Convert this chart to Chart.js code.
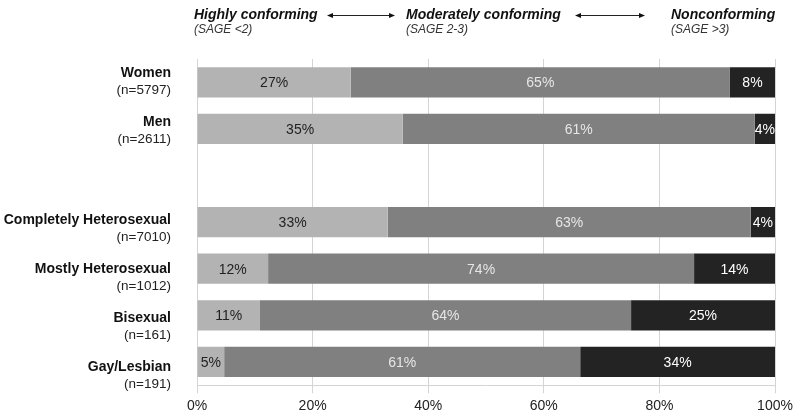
<!DOCTYPE html>
<html><head><meta charset="utf-8">
<script src="https://cdn.jsdelivr.net/npm/chart.js@4"></script>
<style>html,body{margin:0;padding:0;background:#fff;}#wrap{width:800px;height:416px;}</style>
</head><body><div id="wrap"><canvas id="c"></canvas></div>
<script>
const groupNames = ["Women", "Men", "", "Completely Heterosexual", "Mostly Heterosexual", "Bisexual", "Gay/Lesbian"];
const groupN = ["(n=5797)", "(n=2611)", "", "(n=7010)", "(n=1012)", "(n=161)", "(n=191)"];
const highlyConforming = [26.6, 35.6, null, 33.0, 12.3, 10.9, 4.7];
const moderatelyConforming = [65.6, 60.9, null, 62.8, 73.7, 64.2, 61.6];
const nonconforming = [7.8, 3.5, null, 4.2, 14.0, 24.9, 33.7];
const highlyLabels = ["27%", "35%", "", "33%", "12%", "11%", "5%"];
const moderatelyLabels = ["65%", "61%", "", "63%", "74%", "64%", "61%"];
const nonLabels = ["8%", "4%", "", "4%", "14%", "25%", "34%"];
const xTicks = [0, 20, 40, 60, 80, 100];

const FONT = "'Liberation Sans', Arial, sans-serif";

const labelPlugin = {
  id: 'labels',
  afterDatasetsDraw(chart) {
    const ctx = chart.ctx;
    ctx.save();
    // category labels
    ctx.textAlign = 'right';
    ctx.textBaseline = 'middle';
    groupNames.forEach((name, i) => {
      if (!name) return;
      const y = 73 + i * 49;
      ctx.fillStyle = '#111';
      ctx.font = "bold 14px " + FONT;
      ctx.fillText(name, 171, y);
      ctx.font = "13.5px " + FONT;
      ctx.fillStyle = '#222';
      ctx.fillText(groupN[i], 171, y + 17);
    });
    // value labels
    const labelSets = [highlyLabels, moderatelyLabels, nonLabels];
    const textColors = ['#222', '#e6e6e6', '#ffffff'];
    ctx.textAlign = 'center';
    ctx.font = "14px " + FONT;
    chart.data.datasets.forEach((ds, di) => {
      const meta = chart.getDatasetMeta(di);
      meta.data.forEach((el, i) => {
        const txt = labelSets[di][i];
        if (!txt) return;
        const cx = (el.x + el.base) / 2;
        ctx.fillStyle = textColors[di];
        ctx.fillText(txt, cx, el.y + 1);
      });
    });
    // top annotations
    ctx.textAlign = 'left';
    ctx.textBaseline = 'alphabetic';
    const heads = [["Highly conforming", "(SAGE <2)", 194], ["Moderately conforming", "(SAGE 2-3)", 406], ["Nonconforming", "(SAGE >3)", 671]];
    heads.forEach(h => {
      ctx.fillStyle = '#111';
      ctx.font = "italic bold 14px " + FONT;
      ctx.fillText(h[0], h[2], 18.5);
      ctx.fillStyle = '#333';
      ctx.font = "italic 12px " + FONT;
      ctx.fillText(h[1], h[2], 32.5);
    });
    // arrows
    const arrows = [[327, 395], [575, 645]];
    ctx.strokeStyle = '#222';
    ctx.fillStyle = '#111';
    ctx.lineWidth = 1;
    arrows.forEach(a => {
      const y = 15.5;
      ctx.beginPath(); ctx.moveTo(a[0] + 3, y); ctx.lineTo(a[1] - 3, y); ctx.stroke();
      ctx.beginPath(); ctx.moveTo(a[0], y); ctx.lineTo(a[0] + 6, y - 2.5); ctx.lineTo(a[0] + 6, y + 2.5); ctx.closePath(); ctx.fill();
      ctx.beginPath(); ctx.moveTo(a[1], y); ctx.lineTo(a[1] - 6, y - 2.5); ctx.lineTo(a[1] - 6, y + 2.5); ctx.closePath(); ctx.fill();
    });
    ctx.restore();
  }
};

new Chart(document.getElementById('c'), {
  type: 'bar',
  data: {
    labels: groupNames,
    datasets: [
      { label: 'Highly conforming', data: highlyConforming, backgroundColor: '#b3b3b3' },
      { label: 'Moderately conforming', data: moderatelyConforming, backgroundColor: '#808080' },
      { label: 'Nonconforming', data: nonconforming, backgroundColor: '#232323' }
    ]
  },
  options: {
    indexAxis: 'y',
    responsive: true,
    maintainAspectRatio: false,
    animation: false,
    devicePixelRatio: 1,
    layout: { padding: { left: 197, right: 25, top: 59, bottom: -4 } },
    datasets: { bar: { barPercentage: 0.65, categoryPercentage: 1.0, borderWidth: 0 } },
    plugins: { legend: { display: false }, tooltip: { enabled: false } },
    scales: {
      x: {
        stacked: true,
        min: 0, max: 100,
        afterBuildTicks(scale) { scale.ticks = xTicks.map(v => ({ value: v })); },
        grid: { color: '#d4d4d4', tickLength: 8, drawTicks: true },
        border: { display: true, color: '#d4d4d4' },
        ticks: { color: '#222', font: { family: FONT, size: 14 }, padding: 5, callback: v => v + '%' }
      },
      y: {
        stacked: true,
        display: false
      }
    }
  },
  plugins: [labelPlugin]
});
</script>
</body></html>
